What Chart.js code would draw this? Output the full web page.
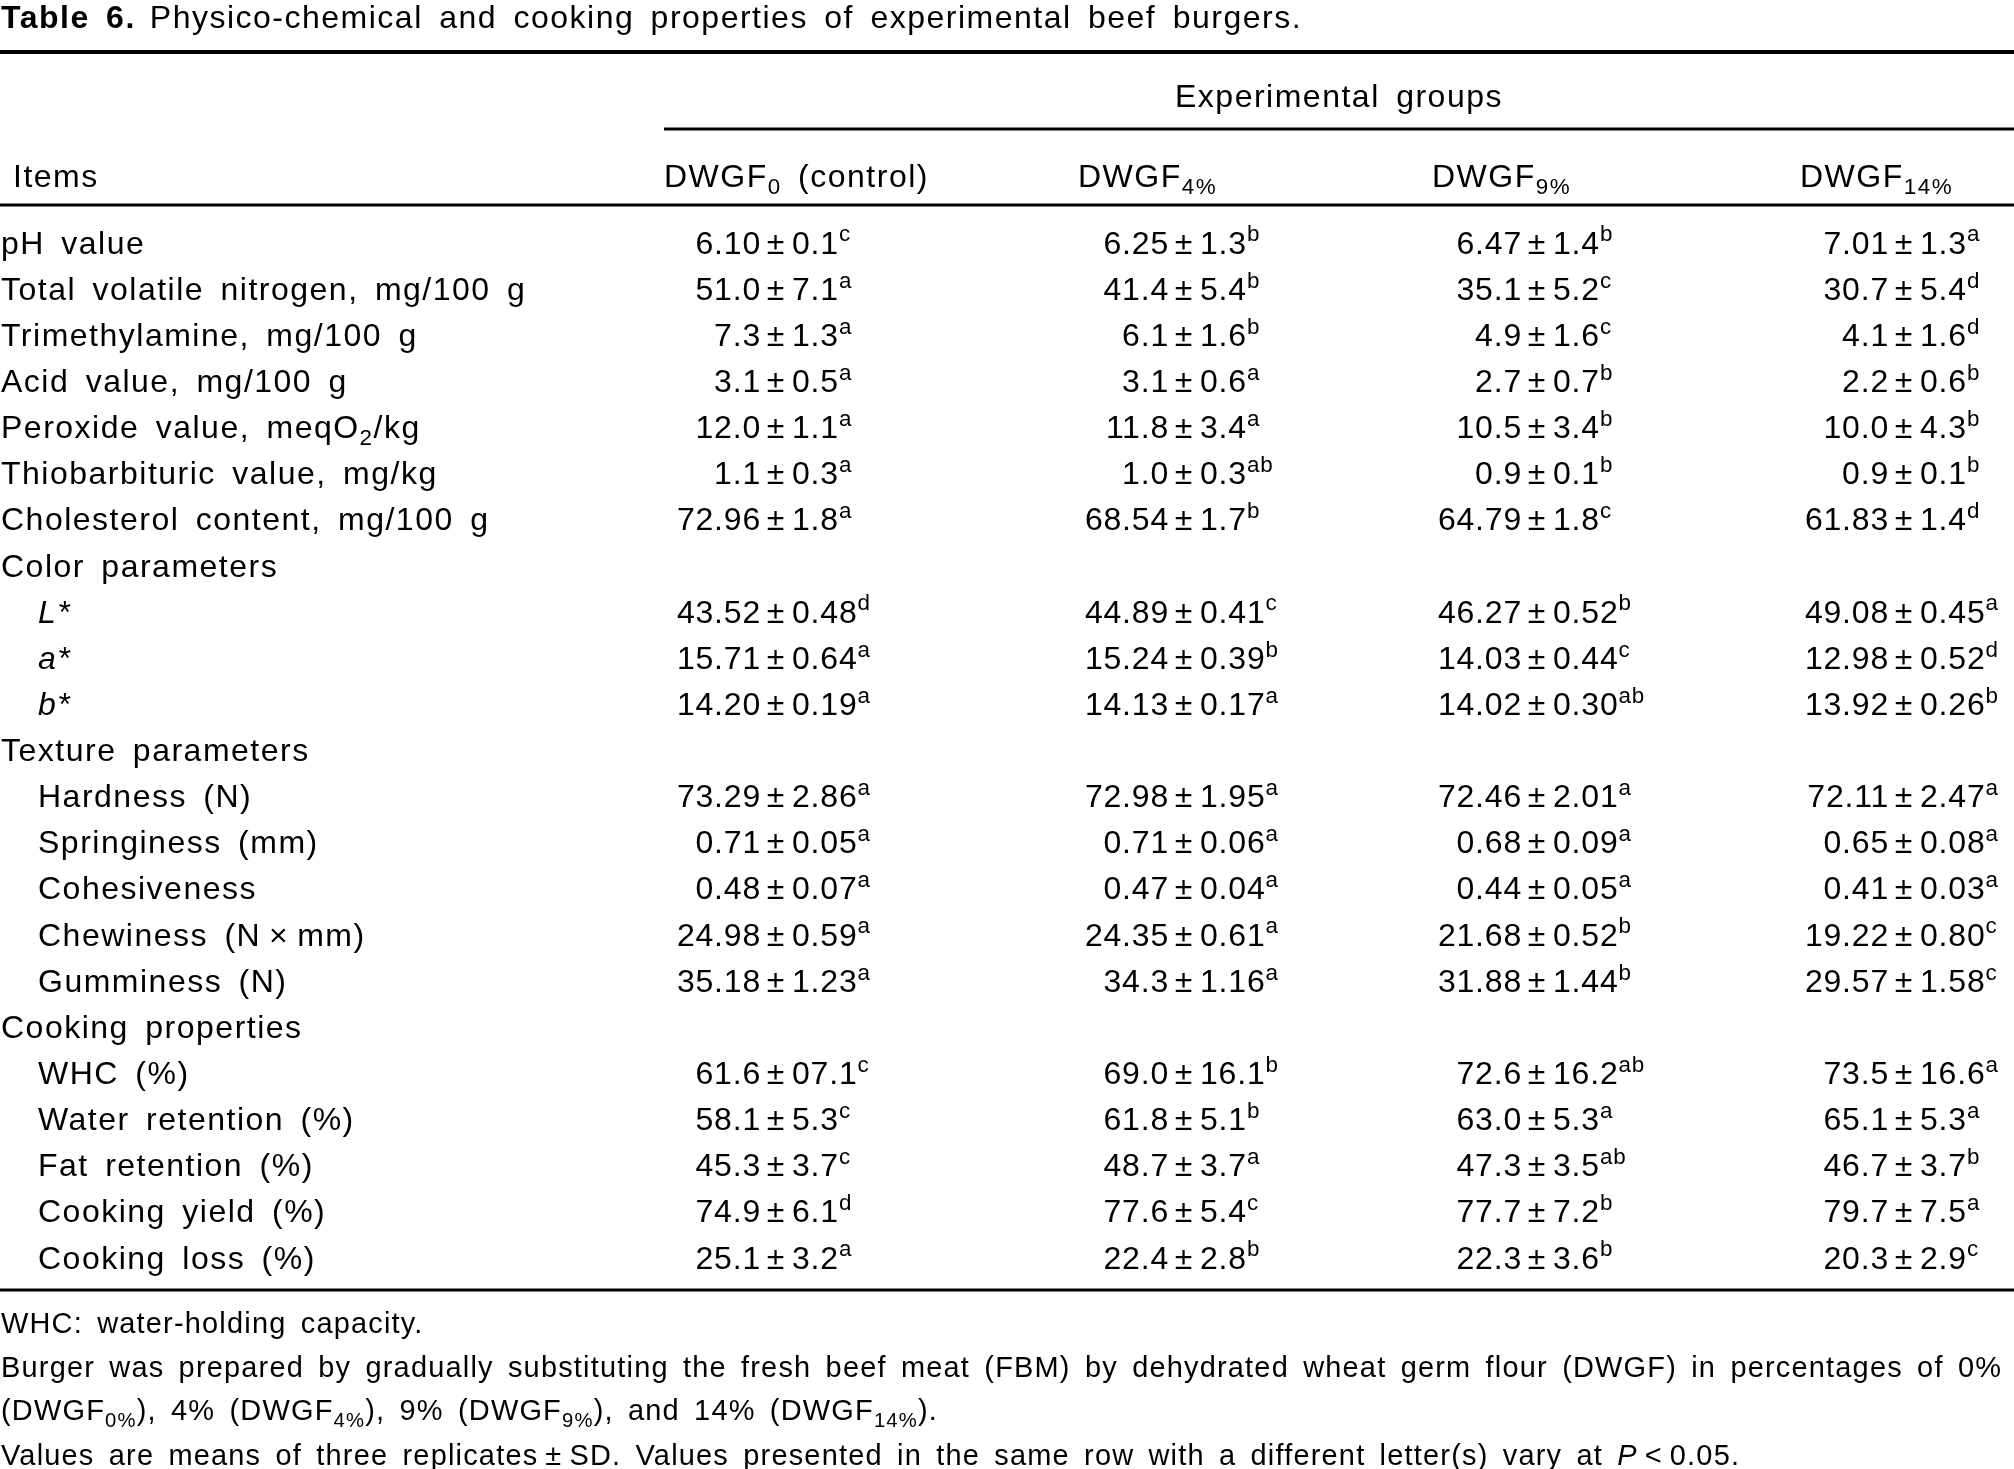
<!DOCTYPE html>
<html><head><meta charset="utf-8">
<script src="https://cdn.jsdelivr.net/npm/chart.js@4"></script>
<style>html,body{margin:0;padding:0;background:#fff;}canvas{display:block;}</style>
</head><body>
<canvas id="c" width="2014" height="1469" style="width:2014px;height:1469px"></canvas>
<script>
const title = ["Table 6.", "Physico-chemical and cooking properties of experimental beef burgers."];
const groupHeader = "Experimental groups";
const colHeaders = ["Items", "DWGF_{0} (control)", "DWGF_{4%}", "DWGF_{9%}", "DWGF_{14%}"];
const items = ["pH value","Total volatile nitrogen, mg/100 g","Trimethylamine, mg/100 g","Acid value, mg/100 g",
 "Peroxide value, meqO_{2}/kg","Thiobarbituric value, mg/kg","Cholesterol content, mg/100 g","Color parameters",
 "*{L*}","*{a*}","*{b*}","Texture parameters","Hardness (N)","Springiness (mm)","Cohesiveness","Chewiness (N\u2009×\u2009mm)",
 "Gumminess (N)","Cooking properties","WHC (%)","Water retention (%)","Fat retention (%)","Cooking yield (%)","Cooking loss (%)"];
const indented = [0,0,0,0,0,0,0,0,1,1,1,0,1,1,1,1,1,0,1,1,1,1,1];
// values: "mean|sd|letters", empty for section rows
const control = ["6.10|0.1|c","51.0|7.1|a","7.3|1.3|a","3.1|0.5|a","12.0|1.1|a","1.1|0.3|a","72.96|1.8|a","",
 "43.52|0.48|d","15.71|0.64|a","14.20|0.19|a","","73.29|2.86|a","0.71|0.05|a","0.48|0.07|a","24.98|0.59|a","35.18|1.23|a","",
 "61.6|07.1|c","58.1|5.3|c","45.3|3.7|c","74.9|6.1|d","25.1|3.2|a"];
const dwgf4 = ["6.25|1.3|b","41.4|5.4|b","6.1|1.6|b","3.1|0.6|a","11.8|3.4|a","1.0|0.3|ab","68.54|1.7|b","",
 "44.89|0.41|c","15.24|0.39|b","14.13|0.17|a","","72.98|1.95|a","0.71|0.06|a","0.47|0.04|a","24.35|0.61|a","34.3|1.16|a","",
 "69.0|16.1|b","61.8|5.1|b","48.7|3.7|a","77.6|5.4|c","22.4|2.8|b"];
const dwgf9 = ["6.47|1.4|b","35.1|5.2|c","4.9|1.6|c","2.7|0.7|b","10.5|3.4|b","0.9|0.1|b","64.79|1.8|c","",
 "46.27|0.52|b","14.03|0.44|c","14.02|0.30|ab","","72.46|2.01|a","0.68|0.09|a","0.44|0.05|a","21.68|0.52|b","31.88|1.44|b","",
 "72.6|16.2|ab","63.0|5.3|a","47.3|3.5|ab","77.7|7.2|b","22.3|3.6|b"];
const dwgf14 = ["7.01|1.3|a","30.7|5.4|d","4.1|1.6|d","2.2|0.6|b","10.0|4.3|b","0.9|0.1|b","61.83|1.4|d","",
 "49.08|0.45|a","12.98|0.52|d","13.92|0.26|b","","72.11|2.47|a","0.65|0.08|a","0.41|0.03|a","19.22|0.80|c","29.57|1.58|c","",
 "73.5|16.6|a","65.1|5.3|a","46.7|3.7|b","79.7|7.5|a","20.3|2.9|c"];
const footnotes = ["WHC: water-holding capacity.",
 "Burger was prepared by gradually substituting the fresh beef meat (FBM) by dehydrated wheat germ flour (DWGF) in percentages of 0%",
 "(DWGF_{0%}), 4% (DWGF_{4%}), 9% (DWGF_{9%}), and 14% (DWGF_{14%}).",
 "Values are means of three replicates\u2009±\u2009SD. Values presented in the same row with a different letter(s) vary at *{P}\u2009<\u20090.05."];

const groups = [control, dwgf4, dwgf9, dwgf14];
const pmX = [776, 1184, 1537, 1904];
const headX = [13, 664, 1078, 1432, 1800];
const FONT = '"Liberation Sans", Arial, Helvetica, sans-serif';

function parse(s){
  const parts = s.split(/(_\{[^}]*\}|\^\{[^}]*\}|\*\{[^}]*\})/).filter(p=>p!=='');
  return parts.map(p=>{
    if(p.startsWith('_{')) return {t:p.slice(2,-1),k:'sub'};
    if(p.startsWith('^{')) return {t:p.slice(2,-1),k:'sup'};
    if(p.startsWith('*{')) return {t:p.slice(2,-1),k:'it'};
    return {t:p,k:''};
  });
}
function fontFor(k,size,bold){
  const sz = (k==='sub'||k==='sup')? size*0.7 : size;
  return (k==='it'?'italic ':'')+(bold?'bold ':'')+sz+'px '+FONT;
}
function spacing(ctx,ls,ws){ctx.letterSpacing=ls+'px';ctx.wordSpacing=ws+'px';}
function richWidth(ctx,s,size){
  let w=0; for(const p of parse(s)){ctx.font=fontFor(p.k,size);w+=ctx.measureText(p.t).width;} return w;
}
function rich(ctx,s,x,y,size,bold){
  ctx.textBaseline='alphabetic'; ctx.textAlign='left';
  const base = y + size*0.36;
  for(const p of parse(s)){
    ctx.font=fontFor(p.k,size,bold);
    let yy=base; if(p.k==='sub') yy=base+size*0.22; if(p.k==='sup') yy=base-size*0.38;
    ctx.fillText(p.t,x,yy); x+=ctx.measureText(p.t).width;
  }
  return x;
}

const tablePlugin = {
  id:'table',
  afterDatasetsDraw(chart){
    const ctx = chart.ctx, ys = chart.scales.y, xs = chart.scales.x;
    ctx.save(); ctx.fillStyle='#000'; ctx.strokeStyle='#000';
    const W = chart.width;
    spacing(ctx,1.5,6);
    let tx = rich(ctx,title[0],1,ys.getPixelForValue(-4.898),32,true);
    rich(ctx,title[1],tx+14,ys.getPixelForValue(-4.898),32,false);
    const hline=(v,x0,lw)=>{ctx.lineWidth=lw;ctx.beginPath();const y=ys.getPixelForValue(v);ctx.moveTo(x0,y);ctx.lineTo(W,y);ctx.stroke();};
    hline(-4.118,0,4);
    hline(-2.449,xs.getPixelForValue(headX[1]),3);
    hline(-0.802,0,3);
    hline(22.713,0,3);
    const gw = richWidth(ctx,groupHeader,32);
    rich(ctx,groupHeader,(xs.getPixelForValue(headX[1])+W)/2-gw/2,ys.getPixelForValue(-3.186),32);
    colHeaders.forEach((h,i)=>rich(ctx,h,xs.getPixelForValue(headX[i]),ys.getPixelForValue(-1.452),32));
    items.forEach((it,i)=>{
      const y = chart.getDatasetMeta(0).data[i].y;
      rich(ctx,it,indented[i]?38:1,y,32);
    });
    spacing(ctx,0.8,0);
    groups.forEach((g,gi)=>{
      const meta = chart.getDatasetMeta(gi);
      g.forEach((v,i)=>{
        if(!v) return;
        const [m,sd,l] = v.split('|');
        const pt = meta.data[i]; const x=pt.x, y=pt.y;
        ctx.font='32px '+FONT;
        const mw = ctx.measureText(m).width;
        rich(ctx,m,x-15-mw,y,32);
        const pw = ctx.measureText('±').width;
        rich(ctx,'±',x-pw/2,y,32);
        rich(ctx,sd+'^{'+l+'}',x+16,y,32);
      });
    });
    spacing(ctx,1.2,5);
    const fy=[23.43,24.38,25.31,26.27];
    const w1 = richWidth(ctx,footnotes[1],28); const fs = 28*(W-4)/w1;
    footnotes.forEach((f,i)=>rich(ctx,f,1,ys.getPixelForValue(fy[i]),fs));
    ctx.restore();
  }
};

const rowIdx = items.map((_,i)=>i);
new Chart(document.getElementById('c'),{
  type:'scatter',
  data:{datasets:groups.map((g,gi)=>({label:colHeaders[gi+1],data:rowIdx.map(i=>({x:pmX[gi],y:i})),pointRadius:0,pointHoverRadius:0}))},
  options:{
    responsive:false, devicePixelRatio:1, animation:false,
    layout:{padding:0},
    plugins:{legend:{display:false},tooltip:{enabled:false}},
    events:[],
    scales:{
      x:{type:'linear',display:false,min:0,max:2014},
      y:{type:'linear',display:false,reverse:true,min:-5.245,max:26.593}
    }
  },
  plugins:[tablePlugin]
});
</script>
</body></html>
